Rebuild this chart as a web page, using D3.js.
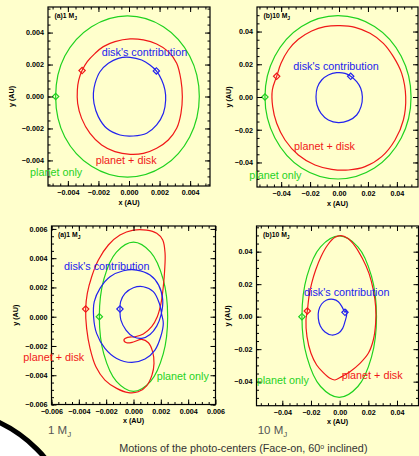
<!DOCTYPE html>
<html>
<head>
<meta charset="utf-8">
<script src="https://cdn.jsdelivr.net/npm/d3@7"></script>
<style>
  body { margin: 0; background: #ffffcc; }
  svg { display: block; }
</style>
</head>
<body>
<svg id="chart" width="419" height="456"></svg>
<script>
// ---- data (AU), first point of each track is where the diamond sits ----
var seriesNames = ["planet only", "planet + disk", "disk's contribution"];
var panelTitles = ["(a)1 M", "(b)10 M", "(a)1 M", "(b)10 M"];
var bottomLabels = ["1 M", "10 M"];
var caption = "Motions of the photo-centers (Face-on, 60";

var ticks1mj = [-0.004, -0.002, 0, 0.002, 0.004];
var ticks10mj = [-0.04, -0.02, 0, 0.02, 0.04];
var ticks1mjIncl = [-0.006, -0.004, -0.002, 0, 0.002, 0.004, 0.006];

// face-on, 1 MJ
var faceOn1Planet = [[-0.0048,0],[-0.0042,-0.00253],[-0.00245,-0.00437],[-0.0001,-0.00505],[0.00225,-0.00437],[0.00397,-0.00253],
  [0.0046,0],[0.00397,0.00253],[0.00225,0.00437],[-0.0001,0.00505],[-0.00245,0.00437],[-0.0042,0.00253]];
var faceOn1PlanetDisk = [[-0.00307,0.00162],[-0.00273,0.00218],[-0.00222,0.0027],[-0.00168,0.00312],[-0.00092,0.00343],[0.00007,0.0036],
  [0.00094,0.00354],[0.00181,0.00329],[0.00257,0.00281],[0.00312,0.00208],[0.0034,0.00103],[0.00349,-0.00001],[0.0034,-0.00105],
  [0.00312,-0.00199],[0.00257,-0.00272],[0.00181,-0.00324],[0.00094,-0.00356],[0.00007,-0.00362],[-0.00092,-0.00345],[-0.00179,-0.00304],
  [-0.00255,-0.00231],[-0.0031,-0.00137],[-0.00336,-0.00043],[-0.00338,0.00041],[-0.00329,0.00103]];
var faceOn1Disk = [[0.00179,0.0016],[0.00214,0.00103],[0.00235,0.00041],[0.0024,-0.00022],[0.00225,-0.00105],[0.00181,-0.00178],
  [0.00116,-0.0023],[0.00028,-0.00247],[-0.00059,-0.00241],[-0.00146,-0.00199],[-0.00201,-0.00126],[-0.00229,-0.00043],[-0.00233,0.0002],
  [-0.00222,0.00082],[-0.0019,0.00155],[-0.00135,0.00208],[-0.0007,0.00239],[0.00007,0.00245],[0.00083,0.00228],[0.00137,0.00197]];

// face-on, 10 MJ
var faceOn10Planet = [[-0.0512,0],[-0.0444,-0.0249],[-0.0259,-0.0434],[-0.0007,-0.0501],[0.0245,-0.0434],[0.043,-0.0251],
  [0.0498,0],[0.043,0.0249],[0.0245,0.0431],[-0.0007,0.0497],[-0.0259,0.0431],[-0.0444,0.0249]];
var faceOn10PlanetDisk = [[-0.0431,0.01263],[-0.0401,0.02057],[-0.03504,0.02872],[-0.02812,0.03524],[-0.0189,0.04033],[-0.00968,0.04298],
  [0.00069,0.04359],[0.01106,0.04257],[0.02144,0.03891],[0.03066,0.0328],[0.03757,0.02465],[0.04333,0.01446],[0.0461,0.0002],
  [0.04449,-0.01406],[0.03872,-0.02628],[0.0295,-0.03646],[0.01798,-0.04257],[0.00645,-0.04461],[-0.00507,-0.0442],[-0.0166,-0.04155],
  [-0.02812,-0.03544],[-0.03734,-0.02628],[-0.0431,-0.01609],[-0.04587,-0.00591],[-0.0461,0.00428]];
var faceOn10Disk = [[0.00807,0.01263],[0.01222,0.00937],[0.01498,0.0053],[0.01614,0.0002],[0.01521,-0.00591],[0.01222,-0.011],
  [0.00645,-0.01446],[-0.00046,-0.01568],[-0.00738,-0.01406],[-0.01245,-0.00998],[-0.01521,-0.00489],[-0.0159,0.0002],[-0.01498,0.00591],
  [-0.01199,0.01039],[-0.00738,0.01344],[-0.00161,0.01487],[0.00415,0.01446]];

// 60 deg inclined, 1 MJ
var incl1Planet = [[-0.0025,0],[-0.00217,-0.00256],[-0.00125,-0.00442],[0,-0.0051],[0.00125,-0.00442],[0.00217,-0.00256],
  [0.0025,0],[0.00217,0.00256],[0.00125,0.00442],[0,0.0051],[-0.00125,0.00442],[-0.00217,0.00256]];
var incl1PlanetDisk = [[-0.0035,0.00052],[-0.00338,0.00159],[-0.00306,0.00273],[-0.00257,0.00387],[-0.00184,0.0049],[-0.00099,0.00558],
  [-0.00001,0.00592],[0.00096,0.00592],[0.0017,0.0057],[0.00214,0.00524],[0.00231,0.00433],[0.00228,0.00319],[0.00218,0.00205],
  [0.00201,0.00091],[0.00174,0],[0.00133,-0.00068],[0.00072,-0.00118],[0.00011,-0.00137],[-0.00043,-0.00141],[-0.0007,-0.00159],
  [-0.0005,-0.00178],[-0.00001,-0.00173],[0.0006,-0.00155],[0.00109,-0.00178],[0.0014,-0.00239],[0.0015,-0.00319],[0.00135,-0.00399],
  [0.00096,-0.00472],[0.00035,-0.00513],[-0.00038,-0.00519],[-0.00123,-0.0049],[-0.00209,-0.00433],[-0.00275,-0.00342],
  [-0.00318,-0.00216],[-0.00343,-0.0008]];
var incl1Disk = [[-0.00099,0.00052],[-0.00092,-0.00023],[-0.00055,-0.00091],[-0.00001,-0.00137],[0.0006,-0.00148],[0.00121,-0.00121],
  [0.0017,-0.00064],[0.00201,0.00011],[0.00214,0.00114],[0.00184,0.00216],[0.00121,0.00285],[0.00023,0.00319],[-0.00074,0.00314],
  [-0.00172,0.00273],[-0.00245,0.00194],[-0.00287,0.00103],[-0.00292,0],[-0.0027,-0.00114],[-0.00209,-0.00216],[-0.00123,-0.00285],
  [-0.00013,-0.00312],[0.00084,-0.00289],[0.00157,-0.00228],[0.00199,-0.00137],[0.00218,-0.00046],[0.00206,0.00018],[0.00189,0.00091],
  [0.00145,0.00171],[0.00072,0.00205],[-0.00001,0.00198],[-0.00062,0.00159],[-0.00094,0.00103]];

// 60 deg inclined, 10 MJ
var incl10Planet = [[-0.0263,0],[-0.0228,-0.0249],[-0.0133,-0.043],[-0.0003,-0.0497],[0.0127,-0.043],[0.0222,-0.0249],
  [0.0257,0],[0.0222,0.0249],[0.0127,0.043],[-0.0003,0.0497],[-0.0133,0.043],[-0.0228,0.0249]];
var incl10PlanetDisk = [[-0.02255,0.00349],[-0.02139,0.01231],[-0.01953,0.02051],[-0.01674,0.02871],[-0.01302,0.03692],[-0.00837,0.0441],
  [-0.00326,0.04881],[0.00093,0.04984],[0.00558,0.0482],[0.0107,0.04348],[0.01581,0.03589],[0.02046,0.02666],[0.02348,0.01641],
  [0.02511,0.00615],[0.02511,-0.0041],[0.02348,-0.01436],[0.02,-0.02256],[0.01418,-0.02871],[0.00721,-0.03384],[0.0014,-0.03692],
  [-0.00326,-0.03897],[-0.00674,-0.03794],[-0.01139,-0.03446],[-0.01604,-0.02974],[-0.02,-0.02256],[-0.02279,-0.01231],[-0.02348,-0.00205]];
var incl10Disk = [[0.00372,0.00267],[0.00186,0.00574],[-0.00093,0.00923],[-0.00442,0.01067],[-0.00907,0.01026],[-0.01256,0.00779],
  [-0.01465,0.00369],[-0.01488,-0.00103],[-0.01349,-0.00574],[-0.01023,-0.00943],[-0.00558,-0.01128],[-0.00093,-0.01026],
  [0.00209,-0.00718],[0.00372,-0.00308],[0.00488,0.00103],[0.00465,0.0041]];

// ---- layout ----
var colors = ["#1fd21f", "#f01818", "#2222ee"];
var svg = d3.select("#chart");

// decoration: dark-rimmed disc in the lower-left corner
svg.append("circle")
  .attr("cx", -60).attr("cy", 546).attr("r", 137)
  .attr("fill", "#ffffff").attr("stroke", "#000").attr("stroke-width", 5);

var panels = [
  { box: [48, 7, 210, 186], xd: [-0.0053, 0.0053], yd: [-0.0056, 0.0056], ticks: ticks1mj, minor: 0.0005, fmt: ".3f",
    tracks: [faceOn1Planet, faceOn1PlanetDisk, faceOn1Disk], title: panelTitles[0], yTitle: 36.5,
    labels: [[30, 175.7], [95.7, 164], [101.7, 56]] },
  { box: [257, 7, 418, 187], xd: [-0.0567, 0.0546], yd: [-0.055, 0.055], ticks: ticks10mj, minor: 0.005, fmt: ".2f",
    tracks: [faceOn10Planet, faceOn10PlanetDisk, faceOn10Disk], title: panelTitles[1], yTitle: 29,
    labels: [[249.3, 179.3], [294, 149.7], [293.3, 70]] },
  { box: [51.5, 226, 215.5, 404.5], xd: [-0.006, 0.006], yd: [-0.006, 0.0062], ticks: ticks1mjIncl, minor: 0.0005, fmt: ".3f",
    tracks: [incl1Planet, incl1PlanetDisk, incl1Disk], title: panelTitles[2], yTitle: 36.5,
    labels: [[156.7, 379.7], [23.3, 360.7], [64, 270]] },
  { box: [256.5, 226, 418.5, 405.7], xd: [-0.058, 0.055], yd: [-0.0548, 0.0558], ticks: ticks10mj, minor: 0.005, fmt: ".2f",
    tracks: [incl10Planet, incl10PlanetDisk, incl10Disk], title: panelTitles[3], yTitle: 29,
    labels: [[256.7, 383.7], [341.7, 379], [304, 296]] }
];

var tickFont = "Liberation Sans, Arial, Helvetica, sans-serif";

panels.forEach(function (p) {
  var w = p.box[2] - p.box[0], h = p.box[3] - p.box[1];
  var x = d3.scaleLinear().domain(p.xd).range([0, w]);
  var y = d3.scaleLinear().domain(p.yd).range([h, 0]);
  var g = svg.append("g").attr("transform", "translate(" + p.box[0] + "," + p.box[1] + ")");

  var fmt = function (v) { return d3.format(p.fmt)(v).replace("-", "\u2212"); };
  var minorX = d3.range(-0.06, 0.0601, p.minor).filter(function (v) { return v > p.xd[0] && v < p.xd[1]; });
  var minorY = d3.range(-0.06, 0.0601, p.minor).filter(function (v) { return v > p.yd[0] && v < p.yd[1]; });
  var majX = p.ticks.filter(function (v) { return v >= p.xd[0] - 1e-9 && v <= p.xd[1] + 1e-9; });
  var majY = p.ticks.filter(function (v) { return v >= p.yd[0] - 1e-9 && v <= p.yd[1] + 1e-9; });

  // tracks first, axes drawn over them
  var line = d3.line()
    .x(function (d) { return x(d[0]); })
    .y(function (d) { return y(d[1]); })
    .curve(d3.curveCatmullRomClosed.alpha(0.5));

  var clip = "clip" + p.box[0] + "_" + p.box[1];
  g.append("clipPath").attr("id", clip).append("rect").attr("width", w).attr("height", h);

  p.tracks.forEach(function (t, i) {
    g.append("path")
      .attr("clip-path", "url(#" + clip + ")")
      .attr("d", line(t))
      .attr("fill", "none")
      .attr("stroke", colors[i])
      .attr("stroke-width", 1.2);
    g.append("path")
      .attr("d", d3.symbol().type(d3.symbolSquare).size(20)())
      .attr("transform", "translate(" + x(t[0][0]) + "," + y(t[0][1]) + ") rotate(45)")
      .attr("fill", "none")
      .attr("stroke", colors[i])
      .attr("stroke-width", 1.2);
  });

  // axes: ticks inward on all four sides
  function addAxis(axisFn, scale, vals, size, labelled, tr) {
    var a = axisFn(scale).tickValues(vals).tickSize(-size).tickPadding(labelled ? 4 : 0)
      .tickFormat(labelled ? fmt : "");
    var ag = g.append("g").attr("transform", tr).call(a);
    ag.select(".domain").remove();
    ag.selectAll("line").attr("stroke", "#000").attr("stroke-width", 1);
    ag.selectAll("text").attr("font-family", tickFont).attr("font-size", 7.2)
      .attr("font-weight", "bold").attr("fill", "#000");
    return ag;
  }
  addAxis(d3.axisBottom, x, majX, 5, true, "translate(0," + h + ")");
  addAxis(d3.axisBottom, x, minorX, 2.5, false, "translate(0," + h + ")");
  addAxis(d3.axisTop, x, majX, 5, false, "translate(0,0)");
  addAxis(d3.axisTop, x, minorX, 2.5, false, "translate(0,0)");
  addAxis(d3.axisLeft, y, majY, 5, true, "translate(0,0)");
  addAxis(d3.axisLeft, y, minorY, 2.5, false, "translate(0,0)");
  addAxis(d3.axisRight, y, majY, 5, false, "translate(" + w + ",0)");
  addAxis(d3.axisRight, y, minorY, 2.5, false, "translate(" + w + ",0)");

  g.append("rect").attr("width", w).attr("height", h)
    .attr("fill", "none").attr("stroke", "#000").attr("stroke-width", 1.2);

  // axis titles
  g.append("text").attr("x", w / 2).attr("y", h + 18.5)
    .attr("text-anchor", "middle").attr("font-family", tickFont).attr("font-size", 7.2)
    .attr("font-weight", "bold").text("x (AU)");
  g.append("text").attr("transform", "translate(" + (-p.yTitle + 2.5) + "," + (h / 2) + ") rotate(-90)")
    .attr("text-anchor", "middle").attr("font-family", tickFont).attr("font-size", 7.2)
    .attr("font-weight", "bold").text("y (AU)");

  // panel tag
  var tt = g.append("text").attr("x", 6.5).attr("y", 10.5)
    .attr("font-family", tickFont).attr("font-size", 6.8).attr("font-weight", "bold").text(p.title);
  tt.append("tspan").attr("dy", 2.2).attr("font-size", 5).text("J");

  // series labels (page coords)
  p.labels.forEach(function (l, i) {
    svg.append("text").attr("x", l[0]).attr("y", l[1])
      .attr("font-family", tickFont).attr("font-size", 10.8)
      .attr("fill", colors[i]).text(seriesNames[i]);
  });
});

// bottom captions
[[48, 434], [257.7, 434]].forEach(function (pos, i) {
  var t = svg.append("text").attr("x", pos[0]).attr("y", pos[1])
    .attr("font-family", tickFont).attr("font-size", 11.5).attr("fill", "#555")
    .text(bottomLabels[i]);
  t.append("tspan").attr("dy", 2.5).attr("font-size", 8).text("J");
});

var cap = svg.append("text").attr("x", 119.3).attr("y", 452)
  .attr("font-family", tickFont).attr("font-size", 10.8).attr("fill", "#333").text(caption);
cap.append("tspan").attr("dy", -3).attr("font-size", 7).text("o");
cap.append("tspan").attr("dy", 3).text(" inclined)");
</script>
</body>
</html>
